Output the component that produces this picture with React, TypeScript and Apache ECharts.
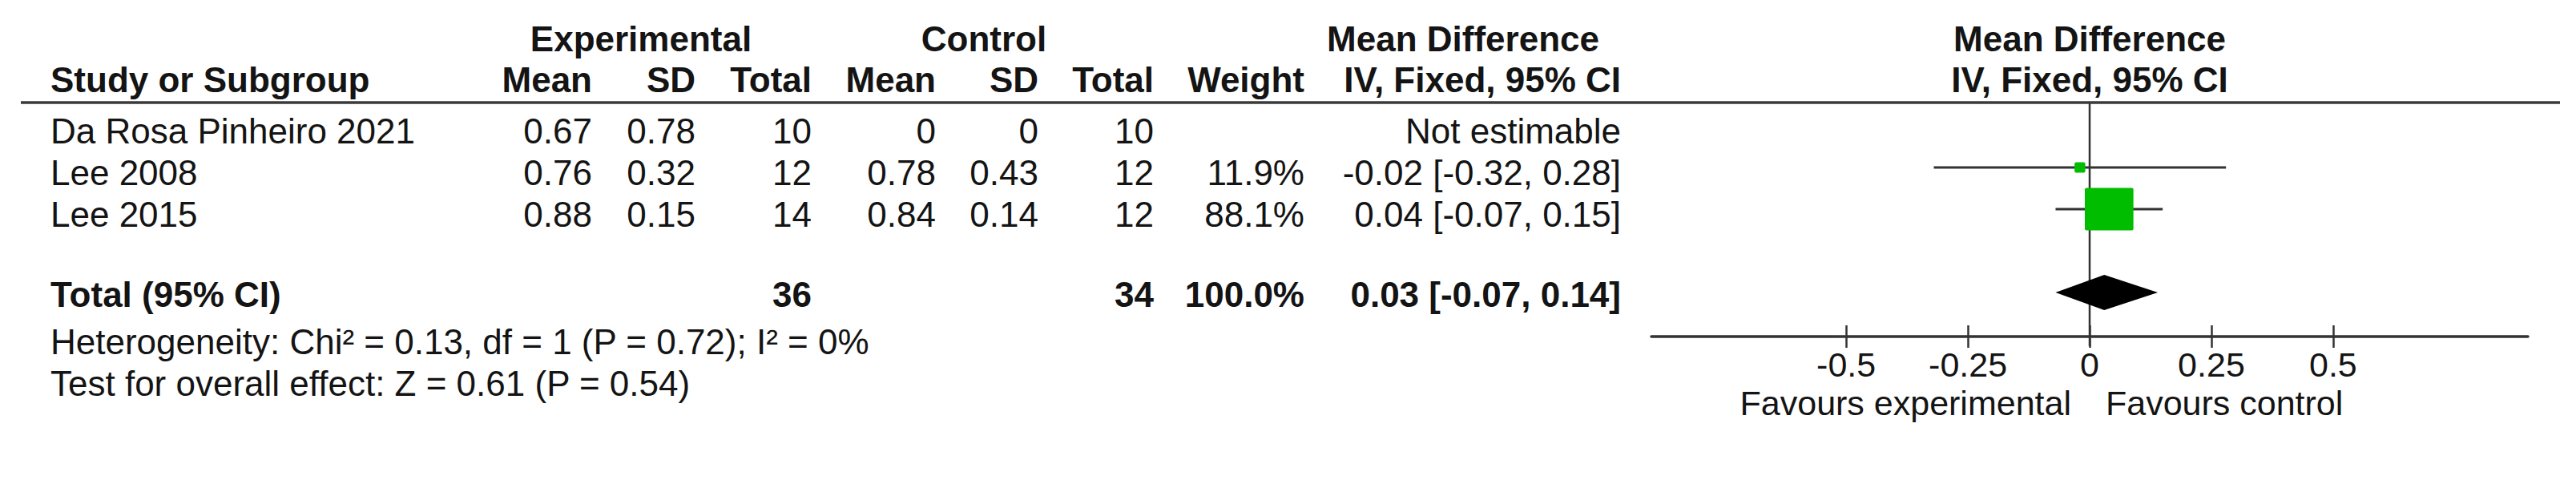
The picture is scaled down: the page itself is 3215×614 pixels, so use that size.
import React, { useEffect, useRef } from "react";
import * as echarts from "echarts";

// ---------------- data ----------------
const studies = ["Da Rosa Pinheiro 2021", "Lee 2008", "Lee 2015"];
const expMean = [0.67, 0.76, 0.88];
const expSD = [0.78, 0.32, 0.15];
const expN = [10, 12, 14];
const ctrlMean = [0, 0.78, 0.84];
const ctrlSD = [0, 0.43, 0.14];
const ctrlN = [10, 12, 12];
const weight: (number | null)[] = [null, 11.9, 88.1];
const meanDiff: (number | null)[] = [null, -0.02, 0.04];
const ciLower: (number | null)[] = [null, -0.32, -0.07];
const ciUpper: (number | null)[] = [null, 0.28, 0.15];

const totalLabel = "Total (95% CI)";
const totalExpN = 36;
const totalCtrlN = 34;
const totalWeight = 100.0;
const totalMD = 0.03;
const totalLower = -0.07;
const totalUpper = 0.14;

const heterogeneity = { chi2: 0.13, df: 1, p: 0.72, i2: 0 };
const overallEffect = { z: 0.61, p: 0.54 };

const axisTicks = [-0.5, -0.25, 0, 0.25, 0.5];
const axisMin = -0.9;
const axisMax = 0.9;
const nullEffect = 0;
const favoursLeft = "Favours experimental";
const favoursRight = "Favours control";

// ---------------- layout ----------------
const W = 3215;
const H = 614;
const FONT = '"Liberation Sans", Arial, Helvetica, sans-serif';
const TEXT = "#141414";
const LINE = "#333333";
const GREEN = "#00BD00";
const FS = 44;

const GRID = { left: 2061, width: 1094, top: 128, height: 292 };
const ROW_PITCH = 52;
const ROW0_PX = 157;
const Y_MIN = (GRID.top - ROW0_PX) / ROW_PITCH;
const Y_MAX = (GRID.top + GRID.height - ROW0_PX) / ROW_PITCH;
const TOTAL_ROW = 4;
const FOOT_ROWS = [5.18, 6.18];
const DY_STUDY = 6;
const DY_TOTAL = 2;
const HEAD_Y = [48.5, 99.5];
const FAV_Y = 502.5;
const COL = {
  study: 63,
  expMean: 739,
  expSD: 868,
  expN: 1013,
  ctrlMean: 1168,
  ctrlSD: 1296,
  ctrlN: 1440,
  weight: 1628,
  ci: 2023,
};
const GROUP_X = { exp: 800, ctrl: 1228, md: 1826 };

const fmtCI = (m: number, l: number, u: number) =>
  `${m.toFixed(2)} [${l.toFixed(2)}, ${u.toFixed(2)}]`;

function txt(text: string, x: number, y: number, align: string, bold = false, size = FS) {
  return {
    type: "text",
    x,
    y,
    silent: true,
    z: 10,
    style: {
      text,
      fill: TEXT,
      fontSize: size,
      fontFamily: FONT,
      fontWeight: bold ? "bold" : "normal",
      align,
      verticalAlign: "middle",
      textAlign: align,
      textVerticalAlign: "middle",
    },
  };
}

export default function App() {
  const ref = useRef<HTMLDivElement>(null);

  useEffect(() => {
    document.body.style.margin = "0";
    if (!ref.current) return;
    const chart = echarts.init(ref.current, null, { renderer: "svg" });

    const studyData = studies
      .map((_, i) => i)
      .filter((i) => meanDiff[i] != null)
      .map((i) => [i, meanDiff[i], ciLower[i], ciUpper[i], weight[i]]);

    const option: any = {
      animation: false,
      backgroundColor: "#ffffff",
      grid: [{ ...GRID, containLabel: false }],
      xAxis: [
        {
          type: "value",
          gridIndex: 0,
          min: axisMin,
          max: axisMax,
          position: "bottom",
          splitLine: { show: false },
          axisLine: { show: true, onZero: false, lineStyle: { color: LINE, width: 3.5 } },
          axisTick: {
            show: true,
            customValues: axisTicks,
            length: 14,
            lineStyle: { color: LINE, width: 2.5 },
          },
          axisLabel: {
            show: true,
            customValues: axisTicks,
            margin: 13,
            fontSize: 43,
            fontFamily: FONT,
            color: TEXT,
            formatter: (v: number) => String(v),
          },
        },
        {
          type: "value",
          gridIndex: 0,
          min: axisMin,
          max: axisMax,
          position: "bottom",
          splitLine: { show: false },
          axisLine: { show: false, onZero: false },
          axisTick: {
            show: true,
            inside: true,
            customValues: axisTicks,
            length: 14,
            lineStyle: { color: LINE, width: 2.5 },
          },
          axisLabel: { show: false },
        },
      ],
      yAxis: [
        { type: "value", gridIndex: 0, min: Y_MIN, max: Y_MAX, inverse: true, show: false },
      ],
      series: [
        {
          type: "custom",
          name: "null line",
          xAxisIndex: 0,
          yAxisIndex: 0,
          z: 1,
          silent: true,
          data: [[nullEffect]],
          encode: { x: 0 },
          renderItem: (_p: any, api: any) => {
            const top = api.coord([api.value(0), Y_MIN]);
            const bot = api.coord([api.value(0), Y_MAX]);
            return {
              type: "line",
              shape: { x1: top[0], y1: top[1], x2: bot[0], y2: bot[1] + 12 },
              style: { stroke: LINE, lineWidth: 2.5 },
            };
          },
        },
        {
          type: "custom",
          name: "studies",
          xAxisIndex: 0,
          yAxisIndex: 0,
          z: 3,
          silent: true,
          data: studyData,
          encode: { x: [1, 2, 3], y: 0 },
          renderItem: (_p: any, api: any) => {
            const row = api.value(0);
            const pm = api.coord([api.value(1), row]);
            const pl = api.coord([api.value(2), row]);
            const pu = api.coord([api.value(3), row]);
            const w = api.value(4);
            const bw = 6 + 0.62 * w;
            const bh = 7 + 0.52 * w;
            return {
              type: "group",
              children: [
                {
                  type: "line",
                  shape: { x1: pl[0], y1: pl[1], x2: pu[0], y2: pu[1] },
                  style: { stroke: LINE, lineWidth: 3 },
                },
                {
                  type: "rect",
                  shape: { x: pm[0] - bw / 2, y: pm[1] - bh / 2, width: bw, height: bh, r: 2 },
                  style: { fill: GREEN },
                },
              ],
            };
          },
        },
        {
          type: "custom",
          name: "total",
          xAxisIndex: 0,
          yAxisIndex: 0,
          z: 3,
          silent: true,
          data: [[TOTAL_ROW, totalMD, totalLower, totalUpper]],
          encode: { x: [1, 2, 3], y: 0 },
          renderItem: (_p: any, api: any) => {
            const row = api.value(0);
            const pm = api.coord([api.value(1), row]);
            const pl = api.coord([api.value(2), row]);
            const pu = api.coord([api.value(3), row]);
            const hh = 22;
            return {
              type: "polygon",
              shape: {
                points: [
                  [pl[0], pl[1]],
                  [pm[0], pm[1] - hh],
                  [pu[0], pu[1]],
                  [pm[0], pm[1] + hh],
                ],
              },
              style: { fill: "#000000" },
            };
          },
        },
      ],
    };

    chart.setOption(option);

    const yPix = (r: number) => chart.convertToPixel({ yAxisIndex: 0 }, r) as number;
    const xPix = (v: number) => chart.convertToPixel({ xAxisIndex: 0 }, v) as number;
    const zeroX = xPix(nullEffect);

    const g: any[] = [];
    // header rule
    g.push({
      type: "line",
      silent: true,
      z: 9,
      shape: { x1: 26, y1: GRID.top, x2: 3195, y2: GRID.top },
      style: { stroke: "#3a3a3a", lineWidth: 3.5 },
    });
    // header row 1
    g.push(txt("Experimental", GROUP_X.exp, HEAD_Y[0], "center", true));
    g.push(txt("Control", GROUP_X.ctrl, HEAD_Y[0], "center", true));
    g.push(txt("Mean Difference", GROUP_X.md, HEAD_Y[0], "center", true));
    g.push(txt("Mean Difference", zeroX, HEAD_Y[0], "center", true));
    // header row 2
    g.push(txt("Study or Subgroup", COL.study, HEAD_Y[1], "left", true));
    g.push(txt("Mean", COL.expMean, HEAD_Y[1], "right", true));
    g.push(txt("SD", COL.expSD, HEAD_Y[1], "right", true));
    g.push(txt("Total", COL.expN, HEAD_Y[1], "right", true));
    g.push(txt("Mean", COL.ctrlMean, HEAD_Y[1], "right", true));
    g.push(txt("SD", COL.ctrlSD, HEAD_Y[1], "right", true));
    g.push(txt("Total", COL.ctrlN, HEAD_Y[1], "right", true));
    g.push(txt("Weight", COL.weight, HEAD_Y[1], "right", true));
    g.push(txt("IV, Fixed, 95% CI", COL.ci, HEAD_Y[1], "right", true));
    g.push(txt("IV, Fixed, 95% CI", zeroX, HEAD_Y[1], "center", true));

    // study rows
    studies.forEach((name, i) => {
      const y = yPix(i) + DY_STUDY;
      g.push(txt(name, COL.study, y, "left"));
      g.push(txt(String(expMean[i]), COL.expMean, y, "right"));
      g.push(txt(String(expSD[i]), COL.expSD, y, "right"));
      g.push(txt(String(expN[i]), COL.expN, y, "right"));
      g.push(txt(String(ctrlMean[i]), COL.ctrlMean, y, "right"));
      g.push(txt(String(ctrlSD[i]), COL.ctrlSD, y, "right"));
      g.push(txt(String(ctrlN[i]), COL.ctrlN, y, "right"));
      const w = weight[i];
      if (w != null) g.push(txt(`${w.toFixed(1)}%`, COL.weight, y, "right"));
      const m = meanDiff[i];
      const l = ciLower[i];
      const u = ciUpper[i];
      g.push(
        txt(m != null && l != null && u != null ? fmtCI(m, l, u) : "Not estimable", COL.ci, y, "right")
      );
    });

    // total row
    const ty = yPix(TOTAL_ROW) + DY_TOTAL;
    g.push(txt(totalLabel, COL.study, ty, "left", true));
    g.push(txt(String(totalExpN), COL.expN, ty, "right", true));
    g.push(txt(String(totalCtrlN), COL.ctrlN, ty, "right", true));
    g.push(txt(`${totalWeight.toFixed(1)}%`, COL.weight, ty, "right", true));
    g.push(txt(fmtCI(totalMD, totalLower, totalUpper), COL.ci, ty, "right", true));

    // footnotes
    g.push(
      txt(
        `Heterogeneity: Chi² = ${heterogeneity.chi2}, df = ${heterogeneity.df} (P = ${heterogeneity.p}); I² = ${heterogeneity.i2}%`,
        COL.study,
        yPix(FOOT_ROWS[0]),
        "left"
      )
    );
    g.push(
      txt(
        `Test for overall effect: Z = ${overallEffect.z} (P = ${overallEffect.p})`,
        COL.study,
        yPix(FOOT_ROWS[1]),
        "left"
      )
    );

    // favours labels
    g.push(txt(favoursLeft, zeroX - 23, FAV_Y, "right", false, 43));
    g.push(txt(favoursRight, zeroX + 20, FAV_Y, "left", false, 43));

    chart.setOption({ graphic: g });

    return () => chart.dispose();
  }, []);

  return <div ref={ref} style={{ width: W, height: H, background: "#fff" }} />;
}
